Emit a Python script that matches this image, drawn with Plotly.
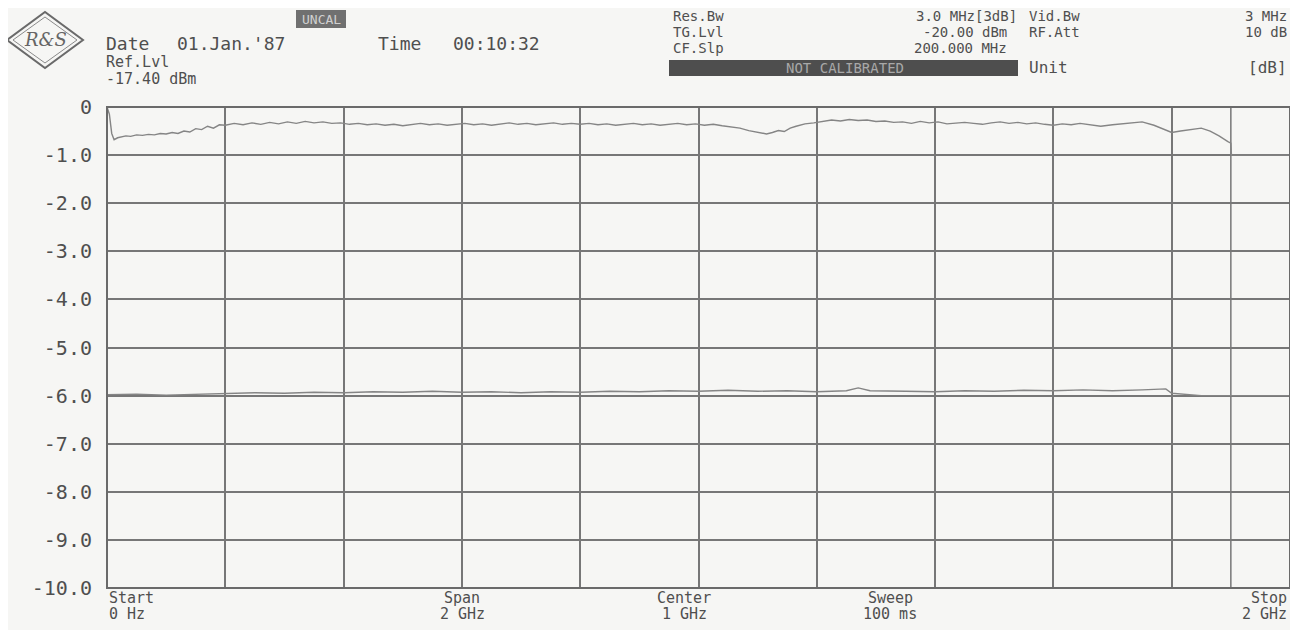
import plotly.graph_objects as go

# ---------------- data ----------------
freq_top = [0.000, 0.004, 0.008, 0.012, 0.018, 0.025, 0.032, 0.040, 0.050, 0.060,
            0.070, 0.080, 0.090, 0.100, 0.110, 0.120, 0.130, 0.140, 0.150, 0.160,
            0.170, 0.180, 0.190, 0.200, 0.215, 0.230, 0.245, 0.260, 0.275, 0.290,
            0.305, 0.320, 0.335, 0.350, 0.365, 0.380, 0.395, 0.410, 0.425, 0.440,
            0.455, 0.470, 0.485, 0.500, 0.515, 0.530, 0.545, 0.560, 0.575, 0.590,
            0.605, 0.620, 0.635, 0.650, 0.665, 0.680, 0.695, 0.710, 0.725, 0.740,
            0.755, 0.770, 0.785, 0.800, 0.815, 0.830, 0.845, 0.860, 0.875, 0.890,
            0.905, 0.920, 0.935, 0.950, 0.965, 0.980, 0.995, 1.010, 1.025, 1.040,
            1.055, 1.070, 1.085, 1.100, 1.115, 1.125, 1.135, 1.145, 1.155, 1.165,
            1.180, 1.195, 1.210, 1.225, 1.240, 1.255, 1.270, 1.285, 1.300, 1.315,
            1.330, 1.345, 1.360, 1.375, 1.390, 1.405, 1.420, 1.435, 1.450, 1.465,
            1.480, 1.495, 1.510, 1.525, 1.540, 1.555, 1.570, 1.585, 1.600, 1.615,
            1.630, 1.645, 1.660, 1.680, 1.700, 1.720, 1.735, 1.750, 1.770, 1.790,
            1.800, 1.815, 1.830, 1.850, 1.865, 1.880, 1.895, 1.900, 1.901, 1.950,
            2.000]
level_top = [0.00, -0.15, -0.55, -0.68, -0.64, -0.62, -0.60, -0.61, -0.58, -0.59,
             -0.57, -0.58, -0.55, -0.56, -0.53, -0.55, -0.50, -0.52, -0.45, -0.47,
             -0.40, -0.44, -0.37, -0.38, -0.34, -0.37, -0.33, -0.36, -0.32, -0.35,
             -0.31, -0.34, -0.30, -0.33, -0.31, -0.34, -0.33, -0.36, -0.34, -0.37,
             -0.35, -0.38, -0.36, -0.39, -0.36, -0.34, -0.37, -0.35, -0.38, -0.36,
             -0.34, -0.37, -0.35, -0.38, -0.36, -0.33, -0.36, -0.34, -0.37, -0.35,
             -0.33, -0.36, -0.34, -0.36, -0.34, -0.37, -0.35, -0.38, -0.36, -0.34,
             -0.37, -0.35, -0.38, -0.36, -0.34, -0.37, -0.35, -0.38, -0.36, -0.39,
             -0.42, -0.44, -0.49, -0.52, -0.56, -0.53, -0.49, -0.51, -0.44, -0.40,
             -0.35, -0.33, -0.30, -0.27, -0.29, -0.26, -0.28, -0.27, -0.30, -0.29,
             -0.32, -0.31, -0.34, -0.30, -0.33, -0.31, -0.35, -0.33, -0.32, -0.34,
             -0.36, -0.33, -0.31, -0.34, -0.32, -0.35, -0.33, -0.36, -0.38, -0.35,
             -0.37, -0.34, -0.36, -0.40, -0.37, -0.35, -0.33, -0.31, -0.38, -0.48,
             -0.53, -0.50, -0.48, -0.44, -0.50, -0.60, -0.72, -0.75, -1.00, -1.00,
             -1.00]

freq_low = [0.00, 0.05, 0.10, 0.15, 0.20, 0.25, 0.30, 0.35, 0.40, 0.45,
            0.50, 0.55, 0.60, 0.65, 0.70, 0.75, 0.80, 0.85, 0.90, 0.95,
            1.00, 1.05, 1.10, 1.15, 1.20, 1.25, 1.27, 1.29, 1.35, 1.40,
            1.45, 1.50, 1.55, 1.60, 1.65, 1.70, 1.75, 1.79, 1.80, 1.85, 2.00]
level_low = [-5.98, -5.97, -5.99, -5.97, -5.96, -5.94, -5.95, -5.93, -5.94, -5.92,
             -5.93, -5.91, -5.93, -5.92, -5.94, -5.92, -5.93, -5.91, -5.92, -5.90,
             -5.91, -5.89, -5.91, -5.90, -5.92, -5.90, -5.84, -5.90, -5.91, -5.92,
             -5.90, -5.91, -5.89, -5.90, -5.88, -5.90, -5.88, -5.86, -5.95, -6.00, -6.00]

y_tickvals = [0, -1, -2, -3, -4, -5, -6, -7, -8, -9, -10]
y_ticktext = ["0", "-1.0", "-2.0", "-3.0", "-4.0", "-5.0", "-6.0", "-7.0", "-8.0", "-9.0", "-10.0"]
display_line_ghz = 1.9

# ---------------- layout helpers ----------------
# the page body has an 8px margin, so the figure is sized/offset to compensate
OFF = 8
W, H = 1290, 622
L, R, T, B = 99, 8, 99, 42
PW, PH = W - L - R, H - T - B
FONT = "DejaVu Sans Mono"
TXT = "#4f4f4f"
GRID = "#777777"
BG = "#f6f6f4"


def xp(px):  # page pixel -> paper
    return (px - OFF - L) / PW


def yp(py):
    return (H - B - (py - OFF)) / PH


fig = go.Figure()
fig.add_trace(go.Scatter(x=freq_top, y=level_top, mode="lines",
                         line=dict(color="#858585", width=1.4), hoverinfo="skip"))
fig.add_trace(go.Scatter(x=freq_low, y=level_low, mode="lines",
                         line=dict(color="#858585", width=1.4), hoverinfo="skip"))

annotations = []


def txt(s, px, py, anchor="left", size=15, color=TXT):
    annotations.append(dict(text=s, x=xp(px), y=yp(py), xref="paper", yref="paper",
                            xanchor=anchor, yanchor="middle", showarrow=False, borderpad=0,
                            font=dict(family=FONT, size=size, color=color)))


# left header
txt("Date", 105, 44, size=18)
txt("01.Jan.'87", 176, 44, size=18)
txt("Time", 377, 44, size=18)
txt("00:10:32", 452, 44, size=18)
txt("Ref.Lvl", 105, 62, size=15)
txt("-17.40 dBm", 105, 79, size=15)
# right header
RX = 1288
r1, r2, r3, r4 = 16.5, 32.5, 48.5, 68
hs = 14
txt("Res.Bw", 672, r1, size=hs)
txt("TG.Lvl", 672, r2, size=hs)
txt("CF.Slp", 672, r3, size=hs)
txt("3.0 MHz[3dB]", 1018, r1, "right", size=hs)
txt("-20.00 dBm", 1008, r2, "right", size=hs)
txt("200.000 MHz", 1008, r3, "right", size=hs)
txt("Vid.Bw", 1028, r1, size=hs)
txt("RF.Att", 1028, r2, size=hs)
txt("Unit", 1028, r4, size=16)
txt("3 MHz", RX, r1, "right", size=hs)
txt("10 dB", RX, r2, "right", size=hs)
txt("[dB]", RX, r4, "right", size=16)
# bottom labels
b1, b2 = 598, 614
txt("Start", 108, b1)
txt("0 Hz", 108, b2)
txt("Span", 462, b1, "center")
txt("2 GHz", 462, b2, "center")
txt("Center", 684, b1, "center")
txt("1 GHz", 684, b2, "center")
txt("Sweep", 890, b1, "center")
txt("100 ms", 890, b2, "center")
txt("Stop", RX, b1, "right")
txt("2 GHz", RX, b2, "right")

shapes = []
# UNCAL box
shapes.append(dict(type="rect", xref="paper", yref="paper", x0=xp(296), x1=xp(346),
                   y0=yp(28), y1=yp(10), fillcolor="#707070", line=dict(width=0), layer="below"))
txt("UNCAL", 321, 19, "center", size=13, color="#d0d0d0")
# NOT CALIBRATED box
shapes.append(dict(type="rect", xref="paper", yref="paper", x0=xp(669), x1=xp(1018),
                   y0=yp(76), y1=yp(60), fillcolor="#4e4e4e", line=dict(width=0), layer="below"))
txt("NOT CALIBRATED", 845, 68, "center", size=14, color="#a8a8a8")


# logo (diamond)
def diamond(cx, cy, rx, ry):
    pts = [(cx - rx, cy), (cx, cy - ry), (cx + rx, cy), (cx, cy + ry)]
    return "M " + " L ".join(f"{xp(a):.5f},{yp(b):.5f}" for a, b in pts) + " Z"


shapes.append(dict(type="path", xref="paper", yref="paper", path=diamond(45, 40, 38, 28),
                   line=dict(color="#6a6a6a", width=2)))
shapes.append(dict(type="path", xref="paper", yref="paper", path=diamond(45, 40, 32, 23),
                   line=dict(color="#8a8a8a", width=1)))
annotations.append(dict(text="<i>R&amp;S</i>", x=xp(45), y=yp(40), xref="paper", yref="paper",
                        xanchor="center", yanchor="middle", showarrow=False,
                        font=dict(family="DejaVu Serif", size=18, color="#666666")))

# display line at 1.9 GHz
shapes.append(dict(type="line", xref="x", yref="paper", x0=display_line_ghz, x1=display_line_ghz,
                   y0=0, y1=1, line=dict(color=GRID, width=1.5), layer="below"))
# plot frame
shapes.append(dict(type="rect", xref="paper", yref="paper", x0=0, x1=1, y0=0, y1=1,
                   line=dict(color="#6a6a6a", width=2)))

fig.update_layout(
    width=W, height=H,
    margin=dict(l=L, r=R, t=T, b=B, pad=0),
    paper_bgcolor=BG, plot_bgcolor=BG,
    showlegend=False,
    annotations=annotations,
    shapes=shapes,
    xaxis=dict(range=[0, 2], dtick=0.2, tick0=0, showgrid=True, gridcolor=GRID, gridwidth=1.5,
               showticklabels=False, zeroline=False, showline=False, ticks=""),
    yaxis=dict(range=[-10, 0], tickvals=y_tickvals, ticktext=y_ticktext, showgrid=True,
               gridcolor=GRID, gridwidth=1.5, zeroline=False, showline=False, ticks="",
               ticklabelstandoff=14,
               tickfont=dict(family=FONT, size=20, color=TXT)),
)

fig.write_html("out.html")
